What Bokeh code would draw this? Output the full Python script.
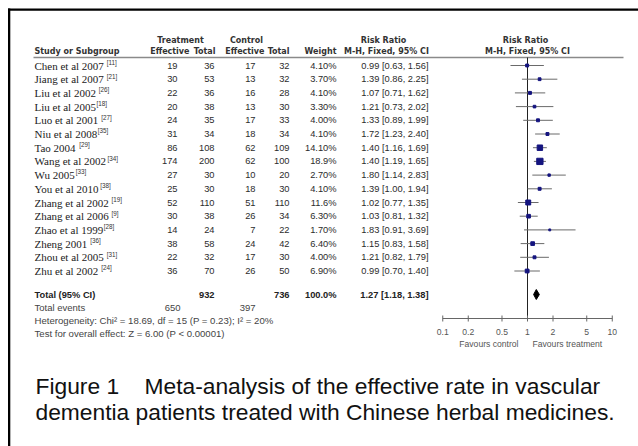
import math
from bokeh.plotting import figure
from bokeh.models import Range1d, LogScale
from bokeh.core.properties import value
from bokeh.embed import file_html
from bokeh.resources import INLINE

# ---------------- data ----------------
studies = ["Chen et al 2007", "Jiang et al 2007", "Liu et al 2002", "Liu et al 2005",
           "Luo et al 2001", "Niu et al 2008", "Tao 2004", "Wang et al 2002", "Wu 2005",
           "You et al 2010", "Zhang et al 2002", "Zhang et al 2006", "Zhao et al 1999",
           "Zheng 2001", "Zhou et al 2005", "Zhu et al 2002"]
refs = [" [11]", " [21]", " [26]", "[18]", " [27]", "[35]", " [29]", "[34]", "[33]",
        "[38]", " [19]", " [9]", "[28]", " [36]", " [31]", " [24]"]
treat_events = [19, 30, 22, 20, 24, 31, 86, 174, 27, 25, 52, 30, 14, 38, 22, 36]
treat_total = [36, 53, 36, 38, 35, 34, 108, 200, 30, 30, 110, 38, 24, 58, 32, 70]
ctrl_events = [17, 13, 16, 13, 17, 18, 62, 62, 10, 18, 51, 26, 7, 24, 17, 26]
ctrl_total = [32, 32, 28, 30, 33, 34, 109, 100, 20, 30, 110, 34, 22, 42, 30, 50]
weights = ["4.10%", "3.70%", "4.10%", "3.30%", "4.00%", "4.10%", "14.10%", "18.9%", "2.70%",
           "4.10%", "11.6%", "6.30%", "1.70%", "6.40%", "4.00%", "6.90%"]
rr = [0.99, 1.39, 1.07, 1.21, 1.33, 1.72, 1.40, 1.40, 1.80, 1.39, 1.02, 1.03, 1.83, 1.15, 1.21, 0.99]
rr_lo = [0.63, 0.86, 0.71, 0.73, 0.89, 1.23, 1.16, 1.19, 1.14, 1.00, 0.77, 0.81, 0.91, 0.83, 0.82, 0.70]
rr_hi = [1.56, 2.25, 1.62, 2.02, 1.99, 2.40, 1.69, 1.65, 2.83, 1.94, 1.35, 1.32, 3.69, 1.58, 1.79, 1.40]

total_treat = 932
total_ctrl = 736
total_weight = "100.0%"
total_rr, total_lo, total_hi = 1.27, 1.18, 1.38
events_treat = 650
events_ctrl = 397
heterogeneity = "Heterogeneity: Chi\u00b2 = 18.69, df = 15 (P = 0.23); I\u00b2 = 20%"
overall = "Test for overall effect: Z = 6.00 (P < 0.00001)"
axis_ticks = [0.1, 0.2, 0.5, 1, 2, 5, 10]
axis_tick_labels = ["0.1", "0.2", "0.5", "1", "2", "5", "10"]
caption = ["Figure 1\u00a0\u00a0\u00a0 Meta-analysis of the effective rate in vascular",
           "dementia patients treated with Chinese herbal medicines."]

# ---------------- layout ----------------
# Bokeh's page template has no body margin, so the figure sits at the page origin.
W, H = 638, 446
X_ONE, DECADE = 527.0, 84.75

p = figure(width=W, height=H, x_range=Range1d(0, W), y_range=Range1d(H, 0),
           x_axis_type=None, y_axis_type=None, toolbar_location=None,
           output_backend="svg", min_border=0, outline_line_color=None,
           background_fill_color="white", border_fill_color="white")
p.extra_x_ranges = {"rr": Range1d(10 ** ((0 - X_ONE) / DECADE), 10 ** ((W - X_ONE) / DECADE))}
p.extra_x_scales = {"rr": LogScale()}

SANS = "Liberation Sans"
SERIF = "Liberation Serif"
HEAD = "DejaVu Sans"
TXT = "#2b2b2b"


def txt(x, y, t, align="left", size="9.3px", font=SANS, style="normal", color=TXT,
        rname="default", x_offset=0):
    p.text(x=x, y=y, text=t, text_align=align, text_baseline="middle",
           text_font=value(font), text_font_size=size, text_font_style=style,
           text_color=color, x_range_name=rname, x_offset=x_offset)


# frame lines of the original figure (top and left)
p.quad(left=[7.5, 7.5], right=[W, 9.8], top=[8, 8], bottom=[10.2, H],
       fill_color="black", line_color=None)

# headers
hy1, hy2 = 40, 51
txt([180, 246, 383], [hy1] * 3, ["Treatment", "Control", "Risk Ratio"], align="center",
    size="8px", font=HEAD, style="bold", color="#333")
txt([525], [hy1], ["Risk Ratio"], align="center", size="8px", font=HEAD, style="bold", color="#333")
txt([34], [hy2], ["Study or Subgroup"], size="8px", font=HEAD, style="bold", color="#333")
txt([189, 215, 264, 289, 336], [hy2] * 5, ["Effective", "Total", "Effective", "Total", "Weight"],
    align="right", size="8px", font=HEAD, style="bold", color="#333")
txt([386, 527], [hy2] * 2, ["M-H, Fixed, 95% CI"] * 2, align="center", size="8px", font=HEAD,
    style="bold", color="#333")
p.segment(x0=[33], y0=[57], x1=[623], y1=[57], line_color="#8a8a8a", line_width=1.3)

# study rows
row_y = [65 + i * 13.7 for i in range(len(studies))]

TIMES_W = {' ': 250, 'a': 444, 'b': 500, 'c': 444, 'd': 500, 'e': 444, 'f': 333, 'g': 500,
           'h': 500, 'i': 278, 'j': 278, 'k': 500, 'l': 278, 'm': 778, 'n': 500, 'o': 500,
           'p': 500, 'q': 500, 'r': 333, 's': 389, 't': 278, 'u': 500, 'v': 500, 'w': 722,
           'x': 500, 'y': 500, 'z': 444, 'C': 667, 'J': 389, 'L': 611, 'N': 722, 'T': 611,
           'W': 944, 'Y': 722, 'Z': 611}
NAME_SIZE = 11.0


def text_width(s):
    return sum(TIMES_W.get(c, 500) for c in s) / 1000.0 * NAME_SIZE


txt([34] * len(studies), row_y, studies, size="%.1fpx" % NAME_SIZE, font=SERIF, color="#222")
sup_x = [34 + text_width(n) + (2.8 if r.startswith(" ") else 0.6) for n, r in zip(studies, refs)]
txt(sup_x, [y - 3.2 for y in row_y], [r.strip() for r in refs], size="6.3px", color="#333")

txt([177] * len(studies), row_y, [str(v) for v in treat_events], align="right")
txt([214] * len(studies), row_y, [str(v) for v in treat_total], align="right")
txt([255] * len(studies), row_y, [str(v) for v in ctrl_events], align="right")
txt([289] * len(studies), row_y, [str(v) for v in ctrl_total], align="right")
txt([336] * len(studies), row_y, weights, align="right")
txt([428] * len(studies), row_y,
    ["%.2f [%.2f, %.2f]" % (a, b, c) for a, b, c in zip(rr, rr_lo, rr_hi)], align="right")

# forest plot
axis_y = 318
p.segment(x0=[1], y0=[57], x1=[1], y1=[axis_y], x_range_name="rr", line_color="#222", line_width=1)
p.segment(x0=rr_lo, y0=row_y, x1=rr_hi, y1=row_y, x_range_name="rr", line_color="#6a6a6a", line_width=1)
wvals = [float(w.rstrip('%')) for w in weights]
p.scatter(x=rr, y=row_y, marker="square", size=[1.45 * math.sqrt(w) for w in wvals],
          x_range_name="rr", fill_color="#14147f", line_color="#14147f")

# totals
ty = 294
txt([34], [ty], ["Total (95% CI)"], size="9.3px", style="bold", color="#222")
txt([214, 289, 336], [ty] * 3, [str(total_treat), str(total_ctrl), total_weight], align="right",
    size="9.3px", style="bold", color="#222")
txt([428], [ty], ["%.2f [%.2f, %.2f]" % (total_rr, total_lo, total_hi)], align="right",
    size="9.3px", style="bold", color="#222")
p.patch(x=[total_lo, total_rr, total_hi, total_rr], y=[ty, ty - 5, ty, ty + 5],
        x_range_name="rr", fill_color="black", line_color="black")

ey = 307
txt([34], [ey], ["Total events"], size="9.5px", color="#444")
txt([180, 255], [ey] * 2, [str(events_treat), str(events_ctrl)], align="right", size="9.5px", color="#444")
txt([34], [320], [heterogeneity], size="9.6px", color="#444")
txt([34], [333], [overall], size="9.6px", color="#444")

# forest axis
p.segment(x0=[axis_ticks[0]], y0=[axis_y], x1=[axis_ticks[-1]], y1=[axis_y], x_range_name="rr",
          line_color="#666", line_width=1)
p.segment(x0=axis_ticks, y0=[axis_y - 3] * len(axis_ticks), x1=axis_ticks,
          y1=[axis_y + 3] * len(axis_ticks), x_range_name="rr", line_color="#666", line_width=1)
txt(axis_ticks, [331] * len(axis_ticks), axis_tick_labels, align="center", size="8.6px",
    color="#555", rname="rr")
txt([1], [343], ["Favours control"], align="right", size="8.6px", color="#555", rname="rr", x_offset=-9)
txt([1], [343], ["Favours treatment"], align="left", size="8.6px", color="#555", rname="rr", x_offset=5)

# caption
txt([35, 35], [385, 411], caption, size="22.8px", font="Liberation Sans", color="#111")

open("out.html", "w").write(file_html(p, INLINE))
